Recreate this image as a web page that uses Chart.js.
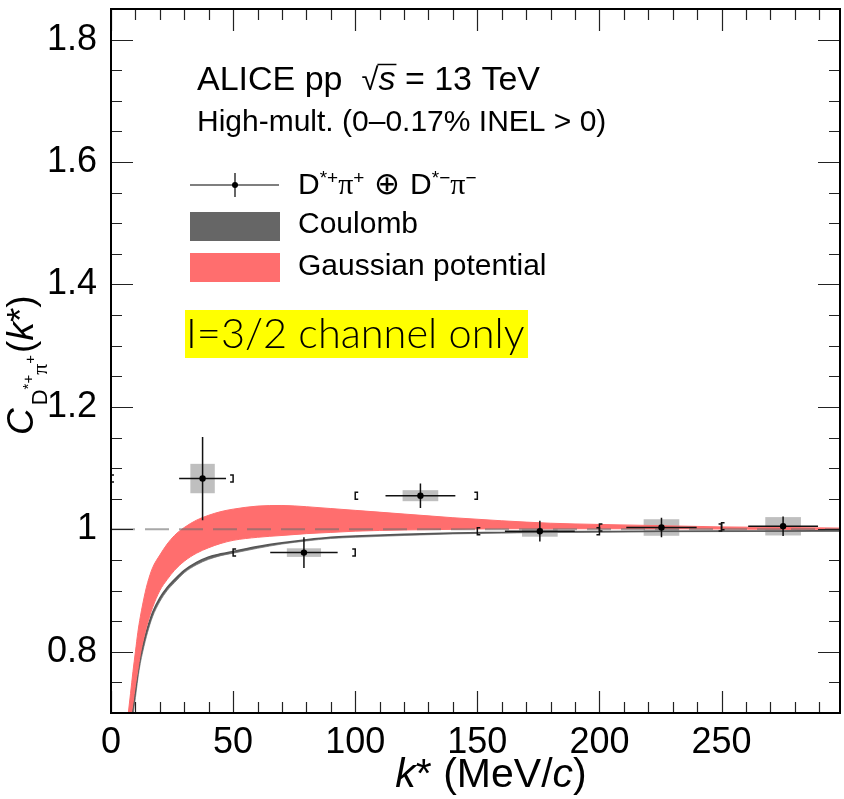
<!DOCTYPE html>
<html>
<head>
<meta charset="utf-8">
<script src="https://cdn.jsdelivr.net/npm/chart.js@4.4.1/dist/chart.umd.min.js"></script>
<style>
  html, body { margin: 0; padding: 0; background: #fff; }
  #wrap { width: 844px; height: 799px; }
</style>
</head>
<body>
<div id="wrap"><canvas id="cfChart" width="844" height="799"></canvas></div>
<script>
// data points: D*+ pi+ (+) D*- pi- correlation function
const kStar = [37.5, 79.0, 126.7, 175.6, 225.4, 275.2];
const cfVal = [1.083, 0.962, 1.055, 0.997, 1.003, 1.005];
const statY = [0.068, 0.025, 0.020, 0.017, 0.016, 0.016];
const statX = [9.6, 13.8, 14.3, 14.3, 14.4, 14.3];
const sysY = [0.024, 0.007, 0.009, 0.009, 0.0135, 0.015];
const sysX = [5.0, 7.0, 7.3, 7.3, 7.3, 7.3];
const binLow = [0, 50, 100, 150, 200, 250];
const binHigh = [50, 100, 150, 200, 250, 300];

// model curves
const curveK = [7, 8, 9, 10, 11, 12, 13, 14, 15, 17, 20, 23, 26, 30, 35, 40, 45, 50, 60, 70, 80, 90, 100, 120, 140, 160, 180, 200, 225, 250, 275, 300];
const gaussUp = [0.697, 0.732, 0.768, 0.800, 0.832, 0.857, 0.878, 0.897, 0.913, 0.937, 0.958, 0.976, 0.990, 1.003, 1.015, 1.023, 1.029, 1.033, 1.038, 1.039, 1.037, 1.034, 1.031, 1.025, 1.019, 1.014, 1.010, 1.008, 1.006, 1.004, 1.003, 1.002];
const gaussLow = [0.660, 0.690, 0.716, 0.745, 0.770, 0.795, 0.815, 0.832, 0.847, 0.872, 0.900, 0.918, 0.933, 0.948, 0.961, 0.970, 0.977, 0.982, 0.987, 0.990, 0.993, 0.995, 0.997, 0.999, 1.000, 1.001, 1.001, 1.001, 1.001, 1.0005, 1.000, 1.000];
const coulUp = [0.630, 0.675, 0.710, 0.738, 0.768, 0.792, 0.810, 0.826, 0.840, 0.864, 0.888, 0.905, 0.918, 0.933, 0.946, 0.955, 0.960, 0.964, 0.972, 0.978, 0.983, 0.987, 0.989, 0.992, 0.994, 0.995, 0.996, 0.9965, 0.997, 0.9973, 0.9975, 0.9977];
const coulLow = [0.615, 0.660, 0.696, 0.725, 0.756, 0.781, 0.800, 0.817, 0.832, 0.857, 0.882, 0.900, 0.913, 0.929, 0.942, 0.951, 0.957, 0.961, 0.969, 0.976, 0.981, 0.985, 0.987, 0.990, 0.9925, 0.994, 0.9948, 0.9954, 0.996, 0.9963, 0.9966, 0.9968];

// axes
const xTicks = [0, 50, 100, 150, 200, 250];
const yTicks = [0.8, 1.0, 1.2, 1.4, 1.6, 1.8];
const xMin = 0, xMax = 298.5;
const yMin = 0.7, yMax = 1.85;
const unity = 1.0;

const SANS = '"Liberation Sans", Arial, sans-serif';
const SERIF = '"Liberation Serif", "DejaVu Serif", serif';
const LIGHT = '300 41.5px Lato, "Open Sans", Roboto, sans-serif';
const RED = 'rgb(255,110,110)';
const GREY = '#666666';

function pts(xs, ys) {
    return xs.map((x, i) => ({ x: x, y: ys[i] }));
}

function drawParts(ctx, x, y, parts) {
    parts.forEach(p => {
        ctx.font = p.font;
        ctx.fillText(p.t, x, y + (p.dy || 0));
        x += ctx.measureText(p.t).width + (p.gap || 0);
    });
    return x;
}

function partsWidth(ctx, parts) {
    let w = 0;
    parts.forEach(p => { ctx.font = p.font; w += ctx.measureText(p.t).width + (p.gap || 0); });
    return w;
}

const rootStyle = {
    id: 'rootStyle',
    beforeDatasetsDraw(chart) {
        // systematic boxes, under everything
        const ctx = chart.ctx, xs = chart.scales.x, ys = chart.scales.y, a = chart.chartArea;
        ctx.save();
        ctx.beginPath();
        ctx.rect(a.left, a.top, a.right - a.left, a.bottom - a.top);
        ctx.clip();
        ctx.fillStyle = '#bfbfbf';
        kStar.forEach((k, i) => {
            const x0 = xs.getPixelForValue(k - sysX[i]);
            const x1 = xs.getPixelForValue(k + sysX[i]);
            const y0 = ys.getPixelForValue(cfVal[i] + sysY[i]);
            const y1 = ys.getPixelForValue(cfVal[i] - sysY[i]);
            ctx.fillRect(x0, y0, x1 - x0, y1 - y0);
        });
        ctx.restore();
    },
    beforeDatasetDraw(chart, args) {
        if (args.index !== 0) return;
        const ctx = chart.ctx, xs = chart.scales.x, ys = chart.scales.y, a = chart.chartArea;
        ctx.save();
        ctx.beginPath();
        ctx.rect(a.left - 1, a.top, a.right - a.left + 2, a.bottom - a.top);
        ctx.clip();
        ctx.strokeStyle = '#111';
        ctx.lineWidth = 1.5;
        kStar.forEach((k, i) => {
            const px = xs.getPixelForValue(k);
            const py = ys.getPixelForValue(cfVal[i]);
            ctx.beginPath();
            ctx.moveTo(xs.getPixelForValue(k - statX[i]), py);
            ctx.lineTo(xs.getPixelForValue(k + statX[i]), py);
            ctx.moveTo(px, ys.getPixelForValue(cfVal[i] + statY[i]));
            ctx.lineTo(px, ys.getPixelForValue(cfVal[i] - statY[i]));
            ctx.stroke();
            // bin edge brackets
            const bl = xs.getPixelForValue(binLow[i]);
            const bh = xs.getPixelForValue(binHigh[i]);
            ctx.beginPath();
            ctx.moveTo(bl + 3, py - 3.5);
            ctx.lineTo(bl, py - 3.5);
            ctx.lineTo(bl, py + 3.5);
            ctx.lineTo(bl + 3, py + 3.5);
            ctx.moveTo(bh - 3, py - 3.5);
            ctx.lineTo(bh, py - 3.5);
            ctx.lineTo(bh, py + 3.5);
            ctx.lineTo(bh - 3, py + 3.5);
            ctx.stroke();
        });
        ctx.restore();
    },
    afterDraw(chart) {
        const ctx = chart.ctx, xs = chart.scales.x, ys = chart.scales.y, a = chart.chartArea;
        ctx.save();
        // ticks inside on all sides
        ctx.strokeStyle = '#222';
        ctx.lineWidth = 1.2;
        ctx.beginPath();
        for (let i = 0; i * 10 <= xMax; i++) {
            const px = Math.round(xs.getPixelForValue(i * 10)) + 0.5;
            const len = i % 5 === 0 ? 22 : 11;
            ctx.moveTo(px, a.bottom); ctx.lineTo(px, a.bottom - len);
            ctx.moveTo(px, a.top); ctx.lineTo(px, a.top + len);
        }
        for (let i = 14; i * 0.05 <= yMax + 1e-9; i++) {
            const py = Math.round(ys.getPixelForValue(i * 0.05)) + 0.5;
            const len = i % 4 === 0 ? 22 : 11;
            ctx.moveTo(a.left, py); ctx.lineTo(a.left + len, py);
            ctx.moveTo(a.right, py); ctx.lineTo(a.right - len, py);
        }
        ctx.stroke();
        // frame
        ctx.strokeStyle = '#000';
        ctx.lineWidth = 2;
        ctx.strokeRect(a.left, a.top, a.right - a.left, a.bottom - a.top);

        ctx.fillStyle = '#000';
        ctx.textAlign = 'left';
        ctx.textBaseline = 'alphabetic';

        // x title
        const xParts = [
            { t: 'k', font: 'italic 41px ' + SANS },
            { t: '*', font: '41px ' + SANS },
            { t: ' (MeV/', font: '41px ' + SANS },
            { t: 'c', font: 'italic 41px ' + SANS },
            { t: ')', font: '41px ' + SANS }
        ];
        drawParts(ctx, 491 - partsWidth(ctx, xParts) / 2, 787, xParts);

        // y title (rotated)
        ctx.save();
        ctx.translate(33, 435);
        ctx.rotate(-Math.PI / 2);
        drawParts(ctx, 0, 0, [
            { t: 'C', font: 'italic 37px ' + SANS, gap: 3 },
            { t: 'D', font: '22px ' + SANS, dy: 14 },
            { t: '*+', font: '15px ' + SANS, dy: 0 },
            { t: '\u03c0', font: '22px ' + SERIF, dy: 14 },
            { t: '+', font: '15px ' + SANS, dy: 2, gap: 2 },
            { t: '(', font: '37px ' + SANS },
            { t: 'k', font: 'italic 37px ' + SANS },
            { t: '*', font: '37px ' + SANS },
            { t: ')', font: '37px ' + SANS }
        ]);
        ctx.restore();

        // header text
        let x = drawParts(ctx, 197, 90, [
            { t: 'ALICE pp  ', font: '34px ' + SANS },
            { t: '\u221a', font: '31px ' + SANS }
        ]);
        const sx = x;
        x = drawParts(ctx, x, 90, [{ t: 's', font: 'italic 34px ' + SANS }]);
        ctx.lineWidth = 1.5;
        ctx.beginPath();
        ctx.moveTo(sx - 1, 64.5);
        ctx.lineTo(x + 1, 64.5);
        ctx.stroke();
        drawParts(ctx, x, 90, [{ t: ' = 13 TeV', font: '34px ' + SANS }]);
        drawParts(ctx, 197, 131, [{ t: 'High-mult. (0\u20130.17% INEL > 0)', font: '30px ' + SANS }]);

        // legend
        ctx.strokeStyle = '#000';
        ctx.lineWidth = 1.2;
        ctx.beginPath();
        ctx.moveTo(190, 185); ctx.lineTo(279, 185);
        ctx.moveTo(235, 173); ctx.lineTo(235, 197);
        ctx.stroke();
        ctx.beginPath();
        ctx.arc(235, 185, 3, 0, Math.PI * 2);
        ctx.fill();
        drawParts(ctx, 298, 194, [
            { t: 'D', font: '30px ' + SANS },
            { t: '*+', font: '19px ' + SANS, dy: -10 },
            { t: '\u03c0', font: '30px ' + SERIF },
            { t: '+', font: '19px ' + SANS, dy: -10 },
            { t: ' \u2295 ', font: '200 31px "DejaVu Sans", ' + SANS },
            { t: 'D', font: '30px ' + SANS },
            { t: '*\u2212', font: '19px ' + SANS, dy: -10 },
            { t: '\u03c0', font: '30px ' + SERIF },
            { t: '\u2212', font: '19px ' + SANS, dy: -10 }
        ]);
        ctx.fillStyle = GREY;
        ctx.fillRect(190, 212, 90, 29);
        ctx.fillStyle = RED;
        ctx.fillRect(190, 253, 90, 29);
        ctx.fillStyle = '#000';
        drawParts(ctx, 298, 233, [{ t: 'Coulomb', font: '30px ' + SANS }]);
        drawParts(ctx, 298, 275, [{ t: 'Gaussian potential', font: '30px ' + SANS }]);

        // highlighted note
        ctx.fillStyle = '#ffff00';
        ctx.fillRect(185, 310, 343, 48);
        ctx.fillStyle = '#000';
        drawParts(ctx, 186, 348, [{ t: 'I=3/2 channel only', font: LIGHT }]);
        ctx.restore();
    }
};

const ctx = document.getElementById('cfChart').getContext('2d');

window.myChart = new Chart(ctx, {
    type: 'line',
    data: {
        datasets: [{
            label: 'data',
            data: pts(kStar, cfVal),
            showLine: false,
            pointRadius: 3.2,
            pointBackgroundColor: '#000',
            pointBorderWidth: 0,
            order: 0
        }, {
            label: 'unity',
            data: [{ x: xMin, y: unity }, { x: 300, y: unity }],
            borderColor: 'rgba(110,110,110,0.6)',
            borderWidth: 2,
            borderDash: [24, 10],
            pointRadius: 0,
            clip: 0,
            order: 1
        }, {
            label: 'Gaussian potential',
            data: pts(curveK, gaussUp),
            borderColor: RED,
            borderWidth: 1,
            backgroundColor: RED,
            fill: '+1',
            pointRadius: 0,
            cubicInterpolationMode: 'monotone',
            clip: 0,
            order: 2
        }, {
            label: 'gauss low',
            data: pts(curveK, gaussLow),
            borderColor: RED,
            borderWidth: 1,
            pointRadius: 0,
            fill: false,
            cubicInterpolationMode: 'monotone',
            clip: 0,
            order: 2
        }, {
            label: 'Coulomb',
            data: pts(curveK, coulUp),
            borderColor: '#555',
            borderWidth: 1.5,
            backgroundColor: GREY,
            fill: '+1',
            pointRadius: 0,
            cubicInterpolationMode: 'monotone',
            clip: 0,
            order: 3
        }, {
            label: 'coulomb low',
            data: pts(curveK, coulLow),
            borderColor: '#9a9a9a',
            borderWidth: 1,
            pointRadius: 0,
            fill: false,
            cubicInterpolationMode: 'monotone',
            clip: 0,
            order: 3
        }]
    },
    options: {
        responsive: false,
        animation: false,
        devicePixelRatio: 1,
        layout: { padding: { top: 9, right: 2, left: 0, bottom: 0 } },
        plugins: {
            legend: { display: false },
            tooltip: { enabled: false }
        },
        scales: {
            x: {
                type: 'linear',
                min: xMin,
                max: xMax,
                grid: { display: false },
                border: { display: false },
                afterBuildTicks: s => { s.ticks = xTicks.map(v => ({ value: v })); },
                afterFit: s => { s.height = 86; s.paddingLeft = 0; s.paddingRight = 0; },
                ticks: {
                    color: '#000',
                    padding: 4,
                    maxRotation: 0,
                    font: { family: SANS, size: 36, lineHeight: 1 },
                    callback: v => String(v)
                }
            },
            y: {
                type: 'linear',
                min: yMin,
                max: yMax,
                grid: { display: false },
                border: { display: false },
                afterBuildTicks: s => { s.ticks = yTicks.map(v => ({ value: v })); },
                afterFit: s => { s.width = 111; s.paddingTop = 0; s.paddingBottom = 0; },
                ticks: {
                    color: '#000',
                    padding: 6,
                    font: { family: SANS, size: 36, lineHeight: 1 },
                    callback: v => (Math.abs(v - 1) < 1e-9 ? '1' : v.toFixed(1))
                }
            }
        }
    },
    plugins: [rootStyle]
});
</script>
</body>
</html>
